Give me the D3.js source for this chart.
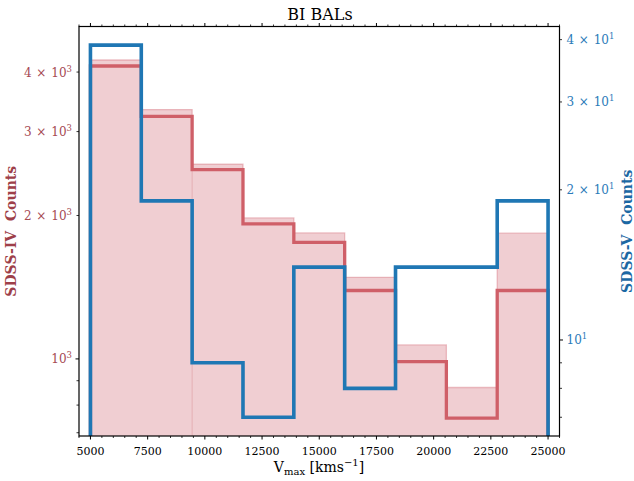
<!DOCTYPE html>
<html>
<head>
<meta charset="utf-8">
<script src="https://cdn.jsdelivr.net/npm/d3@7"></script>
<style>
  html, body { margin: 0; padding: 0; background: #fff; }
  svg { display: block; font-family: "DejaVu Serif", serif; }
</style>
</head>
<body>
<svg id="chart" width="634" height="481"></svg>
<script>
// Velocity bin edges (km/s)
const binEdges = [5000, 7222.2, 9444.4, 11666.7, 13888.9, 16111.1, 18333.3, 20555.6, 22777.8, 25000];
// SDSS-IV counts: shaded histogram and outline histogram
const sdss4Filled = [4240, 3336, 2562, 1977, 1838, 1483, 1070, 871, 1836];
const sdss4Step   = [4119, 3229, 2495, 1920, 1757, 1392, 987, 751, 1392];
// SDSS-V counts
const sdss5Step   = [39, 19, 9, 7, 14, 8, 14, 14, 19];

// Axis ticks
const xMajorTicks = [5000, 7500, 10000, 12500, 15000, 17500, 20000, 22500, 25000];
const leftMajor   = [1000];
const leftLabeledMinor = [2000, 3000, 4000];
const leftMinor   = [700, 800, 900];
const rightMajor  = [10];
const rightLabeledMinor = [20, 30, 40];
const rightMinor  = [7, 8, 9];

const m = { left: 79, right: 559.5, top: 26.5, bottom: 436 };
const svg = d3.select("#chart");

const x = d3.scaleLinear().domain([4500, 25500]).range([m.left, m.right]);
const yL = d3.scaleLog().domain([689, 4985]).range([m.bottom, m.top]);
const yR = d3.scaleLog().domain([6.42, 42.5]).range([m.bottom, m.top]);

const colFill = "rgb(240,206,210)";
const colFillEdge = "rgba(214,120,130,0.45)";
const colRed = "#cf5f68";
const colBlue = "#1f77b4";
const colLeftText = "#a64a53";
const colLeftLabel = "#9e3f49";
const colRightText = "#2b7bb9";
const colRightLabel = "#1c68a3";

svg.append("defs").append("clipPath").attr("id", "plotClip")
  .append("rect").attr("x", m.left).attr("y", m.top)
  .attr("width", m.right - m.left).attr("height", m.bottom - m.top);

const plot = svg.append("g").attr("clip-path", "url(#plotClip)");

// Outline of a histogram as a step path
function stepPath(vals, yScale) {
  const base = m.bottom + 10;
  let p = `M${x(binEdges[0])},${base}`;
  vals.forEach((v, i) => {
    p += `L${x(binEdges[i])},${yScale(v)}L${x(binEdges[i + 1])},${yScale(v)}`;
  });
  p += `L${x(binEdges[binEdges.length - 1])},${base}`;
  return p;
}

// Shaded SDSS-IV histogram, filled as one shape
plot.append("path").attr("d", stepPath(sdss4Filled, yL) + "Z")
  .attr("fill", colFill).attr("stroke", "none");

// faint edge of the shaded bars, plus the seam between the 2nd and 3rd bar
plot.append("path").attr("d", stepPath(sdss4Filled, yL))
  .attr("fill", "none").attr("stroke", colFillEdge).attr("stroke-width", 1.3);
plot.append("line")
  .attr("x1", x(binEdges[2])).attr("x2", x(binEdges[2]))
  .attr("y1", yL(sdss4Filled[2])).attr("y2", m.bottom)
  .attr("stroke", colFillEdge).attr("stroke-width", 0.8);

plot.append("path").attr("d", stepPath(sdss4Step, yL))
  .attr("fill", "none").attr("stroke", colRed).attr("stroke-width", 3.3)
  .attr("stroke-linejoin", "miter");

plot.append("path").attr("d", stepPath(sdss5Step, yR))
  .attr("fill", "none").attr("stroke", colBlue).attr("stroke-width", 3.6)
  .attr("stroke-linejoin", "miter");

// Frame
svg.append("rect").attr("x", m.left).attr("y", m.top)
  .attr("width", m.right - m.left).attr("height", m.bottom - m.top)
  .attr("fill", "none").attr("stroke", "#000").attr("stroke-width", 1.2);

const tickCol = "#000";
// X ticks, bottom and top
const xMinor = d3.range(4500, 25501, 500).filter(v => v % 2500 !== 0);
const gx = svg.append("g");
[[m.bottom, 1], [m.top, -1]].forEach(([y0, dir]) => {
  gx.selectAll(null).data(xMajorTicks).join("line")
    .attr("x1", d => x(d)).attr("x2", d => x(d))
    .attr("y1", y0).attr("y2", y0 + dir * 3.5)
    .attr("stroke", tickCol).attr("stroke-width", 1);
  gx.selectAll(null).data(xMinor).join("line")
    .attr("x1", d => x(d)).attr("x2", d => x(d))
    .attr("y1", y0).attr("y2", y0 + dir * 2)
    .attr("stroke", tickCol).attr("stroke-width", 0.8);
});
gx.selectAll("text.xt").data(xMajorTicks).join("text")
  .attr("class", "xt")
  .attr("x", d => x(d)).attr("y", 455)
  .attr("text-anchor", "middle").attr("font-size", 11).attr("fill", "#000")
  .text(d => d);

// Y ticks helper (log axis with "m × 10^e" labels)
function yTicks(scale, xPos, dir, major, labeledMinor, minor, color) {
  const g = svg.append("g");
  g.selectAll(null).data(major).join("line")
    .attr("x1", xPos).attr("x2", xPos + dir * 3.5)
    .attr("y1", d => scale(d)).attr("y2", d => scale(d))
    .attr("stroke", tickCol).attr("stroke-width", 1);
  g.selectAll(null).data(labeledMinor.concat(minor)).join("line")
    .attr("x1", xPos).attr("x2", xPos + dir * 2.5)
    .attr("y1", d => scale(d)).attr("y2", d => scale(d))
    .attr("stroke", tickCol).attr("stroke-width", 0.8);
  const anchor = dir < 0 ? "end" : "start";
  const tx = xPos + dir * 7;
  const fs = 12;
  major.forEach(v => {
    const e = Math.round(Math.log10(v));
    const t = g.append("text").attr("x", tx).attr("y", scale(v) + 4.5)
      .attr("text-anchor", anchor).attr("font-size", fs).attr("fill", color);
    t.append("tspan").text("10");
    t.append("tspan").attr("dy", -5).attr("font-size", 8.5).text(e);
  });
  labeledMinor.forEach(v => {
    const e = Math.floor(Math.log10(v));
    const mant = Math.round(v / Math.pow(10, e));
    const t = g.append("text").attr("x", tx).attr("y", scale(v) + 4.5)
      .attr("text-anchor", anchor).attr("font-size", fs).attr("fill", color);
    t.append("tspan").text(mant);
    t.append("tspan").attr("dx", 4.5).text("×");
    t.append("tspan").attr("dx", 5).text("10");
    t.append("tspan").attr("dy", -5).attr("font-size", 8.5).text(e);
  });
}
yTicks(yL, m.left, -1, leftMajor, leftLabeledMinor, leftMinor, colLeftText);
yTicks(yR, m.right, 1, rightMajor, rightLabeledMinor, rightMinor, colRightText);

// Title
svg.append("text").attr("x", 320).attr("y", 19.5)
  .attr("text-anchor", "middle").attr("font-size", 16).attr("fill", "#000")
  .text("BI BALs");

// X axis label
const xl = svg.append("text").attr("x", 319).attr("y", 472)
  .attr("text-anchor", "middle").attr("font-size", 14).attr("fill", "#000");
xl.append("tspan").text("V");
xl.append("tspan").attr("dy", 3).attr("font-size", 10).text("max");
xl.append("tspan").attr("dy", -3).text(" [kms");
xl.append("tspan").attr("dy", -6).attr("font-size", 10).text("−1");
xl.append("tspan").attr("dy", 6).text("]");

// Y axis labels
svg.append("text")
  .attr("transform", `translate(15.5,${(m.top + m.bottom) / 2}) rotate(-90)`)
  .attr("text-anchor", "middle").attr("font-size", 14).attr("font-weight", "bold")
  .attr("fill", colLeftLabel).attr("xml:space", "preserve")
  .text("SDSS-IV  Counts");
svg.append("text")
  .attr("transform", `translate(632,${(m.top + m.bottom) / 2}) rotate(-90)`)
  .attr("text-anchor", "middle").attr("font-size", 14).attr("font-weight", "bold")
  .attr("fill", colRightLabel).attr("xml:space", "preserve")
  .text("SDSS-V  Counts");
</script>
</body>
</html>
